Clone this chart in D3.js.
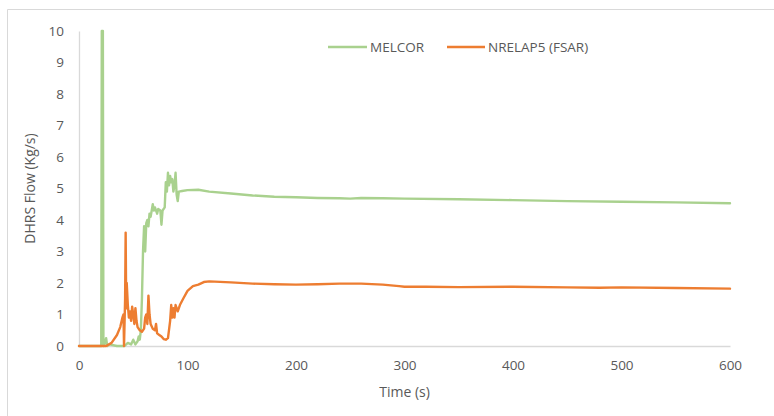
<!DOCTYPE html>
<html>
<head>
<meta charset="utf-8">
<script src="https://cdn.jsdelivr.net/npm/d3@7"></script>
<style>
  html, body { margin: 0; padding: 0; background: #fff; }
  svg { display: block; font-family: "Open Sans", "Liberation Sans", sans-serif; }
</style>
</head>
<body>
<svg id="chart" width="774" height="416"></svg>
<script>
// Time (s) / flow (kg/s) pairs for each code
const melcorTime = [0, 19, 20.5, 21, 22, 22.5, 24, 25, 26, 28, 35, 42, 45, 48, 50, 52, 54, 55, 56, 57, 58, 59, 60, 61, 62, 63, 64, 65, 66, 68, 69, 70, 72, 73, 75, 76, 77, 79, 80, 81, 82, 83, 84, 85, 86, 87, 88, 89, 90, 91, 92, 95, 100, 110, 120, 140, 160, 180, 200, 220, 240, 250, 260, 280, 300, 350, 400, 450, 500, 550, 600];
const melcorFlow = [0, 0, 0, 10, 10, 0, 0.1, 0.25, 0, 0.05, 0, 0, 0.1, 0.05, 0.2, 0.05, 0.15, 0.3, 0.2, 0.5, 1.5, 3.0, 3.8, 3.0, 3.9, 4.0, 3.8, 4.2, 4.1, 4.5, 4.3, 4.4, 4.2, 4.35, 4.3, 3.85, 4.3, 4.4, 5.2, 4.9, 5.5, 5.1, 5.4, 5.2, 5.3, 4.9, 5.1, 5.5, 4.8, 4.6, 4.9, 4.92, 4.95, 4.96, 4.9, 4.84, 4.78, 4.74, 4.72, 4.7, 4.69, 4.68, 4.7, 4.69, 4.68, 4.66, 4.63, 4.6, 4.58, 4.56, 4.53];

const relapTime = [0, 10, 20, 25, 30, 35, 38, 40, 41, 41.5, 42.5, 43, 43.5, 44, 45, 46, 47, 48, 49, 50, 51, 52, 53, 54, 56, 58, 60, 61, 62, 63, 64, 65, 66, 68, 70, 71, 72, 74, 76, 78, 80, 82, 84, 85, 86, 87, 88, 89, 91, 93, 96, 100, 105, 110, 115, 120, 140, 160, 180, 200, 220, 240, 260, 280, 295, 300, 320, 350, 400, 450, 480, 500, 550, 600];
const relapFlow = [0, 0, 0, 0, 0.1, 0.35, 0.6, 0.9, 1.0, 0, 1.5, 3.6, 1.2, 2.0, 1.3, 0.9, 1.1, 0.8, 1.25, 1.0, 0.7, 1.2, 0.8, 0.6, 0.5, 0.45, 0.55, 0.9, 1.0, 0.7, 1.6, 1.0, 0.7, 0.55, 0.5, 0.7, 0.4, 0.35, 0.3, 0.22, 0.2, 0.25, 0.8, 1.3, 0.9, 1.2, 0.9, 1.3, 1.1, 1.3, 1.5, 1.75, 1.9, 1.95, 2.03, 2.05, 2.02, 1.98, 1.96, 1.95, 1.96, 1.98, 1.98, 1.95, 1.9, 1.88, 1.88, 1.87, 1.88, 1.86, 1.85, 1.86, 1.84, 1.82];

const xTicks = [0, 100, 200, 300, 400, 500, 600];
const yTicks = [0, 1, 2, 3, 4, 5, 6, 7, 8, 9, 10];
const seriesNames = ["MELCOR", "NRELAP5 (FSAR)"];
const seriesColors = ["#A9D18E", "#ED7D31"];

const svg = d3.select("#chart");
const textColor = "#595959";
const axisColor = "#D9D9D9";

// Outer chart frame (top and left edges)
svg.append("path")
  .attr("d", "M7.5,416 V9.5 H774")
  .attr("fill", "none")
  .attr("stroke", axisColor)
  .attr("stroke-width", 1);

const plot = { left: 79, right: 730, top: 31, bottom: 346 };

const x = d3.scaleLinear().domain([0, 600]).range([plot.left, plot.right]);
const y = d3.scaleLinear().domain([0, 10]).range([plot.bottom, plot.top]);

// X axis
const xAxis = svg.append("g")
  .attr("transform", `translate(0,${plot.bottom})`)
  .call(d3.axisBottom(x).tickValues(xTicks).tickSize(0).tickPadding(14));
xAxis.select(".domain").attr("stroke", axisColor).attr("stroke-width", 1.3);
xAxis.selectAll("text").attr("fill", textColor).attr("font-size", 13.5)
  .attr("font-family", "'Open Sans', sans-serif");

// Y axis
const yAxis = svg.append("g")
  .attr("transform", `translate(${plot.left},0)`)
  .call(d3.axisLeft(y).tickValues(yTicks).tickSize(0).tickPadding(15));
yAxis.select(".domain").attr("stroke", axisColor).attr("stroke-width", 1.3);
yAxis.selectAll("text").attr("fill", textColor).attr("font-size", 13.5)
  .attr("font-family", "'Open Sans', sans-serif");

// Axis titles
svg.append("text")
  .attr("x", (plot.left + plot.right) / 2)
  .attr("y", 397)
  .attr("text-anchor", "middle")
  .attr("fill", textColor)
  .attr("font-size", 14)
  .text("Time (s)");

svg.append("text")
  .attr("transform", `translate(35,${(plot.top + plot.bottom) / 2}) rotate(-90)`)
  .attr("text-anchor", "middle")
  .attr("fill", textColor)
  .attr("font-size", 14)
  .text("DHRS Flow (Kg/s)");

// Series lines
const line = d3.line()
  .x(d => x(d[0]))
  .y(d => y(d[1]))
  .curve(d3.curveLinear);

const series = [
  d3.zip(melcorTime, melcorFlow),
  d3.zip(relapTime, relapFlow)
];

svg.append("g")
  .selectAll("path")
  .data(series)
  .join("path")
  .attr("d", line)
  .attr("fill", "none")
  .attr("stroke", (d, i) => seriesColors[i])
  .attr("stroke-width", 2.4)
  .attr("stroke-linejoin", "round")
  .attr("stroke-linecap", "round");

// Legend
const legendItems = [
  { x0: 328, x1: 367, tx: 370 },
  { x0: 447, x1: 485, tx: 488 }
];
const legend = svg.append("g");
legendItems.forEach((it, i) => {
  legend.append("line")
    .attr("x1", it.x0).attr("x2", it.x1)
    .attr("y1", 47).attr("y2", 47)
    .attr("stroke", seriesColors[i])
    .attr("stroke-width", 2.4);
  legend.append("text")
    .attr("x", it.tx)
    .attr("y", 52)
    .attr("fill", textColor)
    .attr("font-size", 13.5)
    .text(seriesNames[i]);
});
</script>
</body>
</html>
